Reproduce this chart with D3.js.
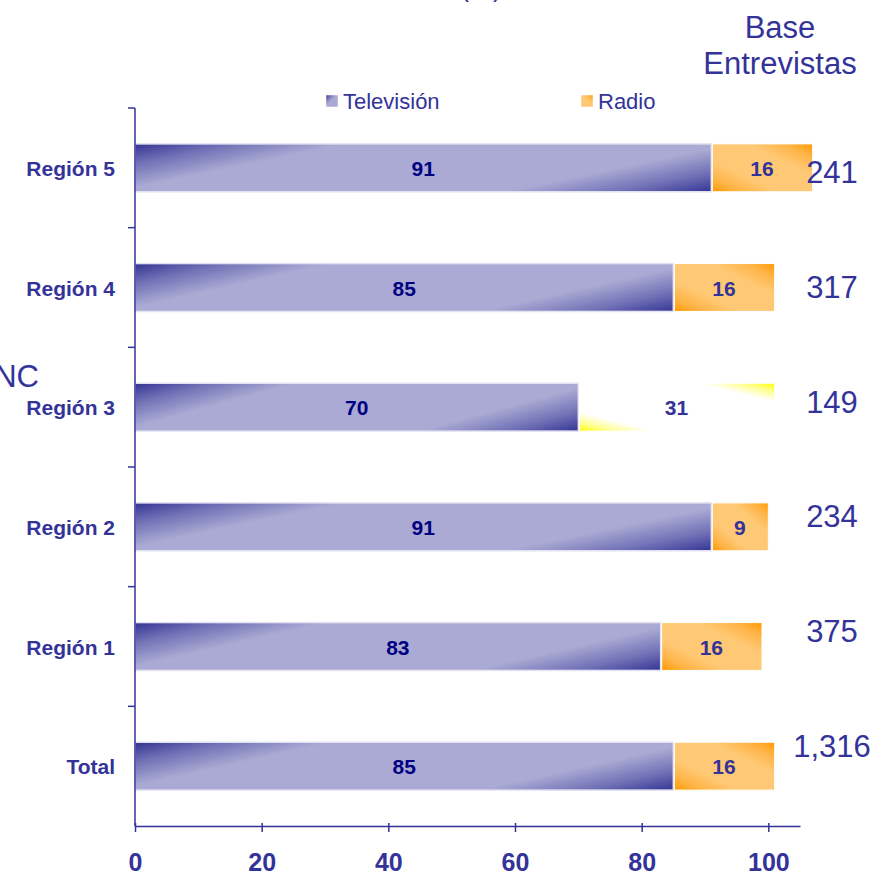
<!DOCTYPE html>
<html>
<head>
<meta charset="utf-8">
<script src="https://cdn.jsdelivr.net/npm/d3@7"></script>
<style>
  body { margin: 0; background: #fff; }
  text { font-family: Arial, "Liberation Sans", sans-serif; }
</style>
</head>
<body>
<div id="chart"></div>
<script>
const categories = ["Región 5", "Región 4", "Región 3", "Región 2", "Región 1", "Total"];
const television = [91, 85, 70, 91, 83, 85];
const radio = [16, 16, 31, 9, 16, 16];
const baseEntrevistas = ["241", "317", "149", "234", "375", "1,316"];
const xTicks = [0, 20, 40, 60, 80, 100];
const seriesNames = ["Televisión", "Radio"];

const W = 875, H = 871;
const navy = "#333399";

const svg = d3.select("#chart").append("svg")
  .attr("width", W).attr("height", H);

const defs = svg.append("defs");

// two-corner gradient: edge colour in two opposite corners, mid colour between
function cornerGradient(id, x1, y1, x2, y2, edge, soft, mid, a, b) {
  const g = defs.append("linearGradient").attr("id", id)
    .attr("x1", x1).attr("y1", y1).attr("x2", x2).attr("y2", y2);
  g.append("stop").attr("offset", 0).attr("stop-color", edge);
  g.append("stop").attr("offset", a * 0.45).attr("stop-color", soft);
  g.append("stop").attr("offset", a).attr("stop-color", mid);
  g.append("stop").attr("offset", b).attr("stop-color", mid);
  g.append("stop").attr("offset", 1 - (1 - b) * 0.45).attr("stop-color", soft);
  g.append("stop").attr("offset", 1).attr("stop-color", edge);
}
cornerGradient("tvGrad", 0, 0, 1.21, 0.48, "#333393", "#7070b6", "#aaaad4", 0.26, 0.74);
cornerGradient("radioGrad", 1, 0, 0, 1, "#ff9900", "#ffb446", "#ffc874", 0.32, 0.68);
cornerGradient("radioAlt", 1, 0, 0, 1, "#ffff00", "#ffff90", "#ffffff", 0.2, 0.8);
cornerGradient("tvKey", 0, 0, 1, 1, "#333393", "#6e6eb4", "#aaaad4", 0.45, 1);
cornerGradient("radioKey", 1, 0, 0, 1, "#ff9900", "#ffb446", "#ffc874", 0.45, 1);

const x = d3.scaleLinear().domain([0, 105]).range([135, 800]);
const y = d3.scaleBand().domain(categories).range([108, 826])
  .paddingInner(0.6).paddingOuter(0.3);
const yBase = d3.scalePoint().domain(categories).range([172, 746]);

const rows = categories.map((c, i) => ({
  cat: c, tv: television[i], radio: radio[i], base: baseEntrevistas[i]
}));

// cut-off title and left label
svg.append("text").attr("x", 481).attr("y", -4).attr("text-anchor", "middle")
  .attr("font-size", 27).attr("fill", navy).text("(%)");
svg.append("text").attr("x", 39).attr("y", 387).attr("text-anchor", "end")
  .attr("font-size", 31).attr("fill", navy).text("NS/NC");

// base header
svg.append("text").attr("x", 780).attr("y", 38).attr("text-anchor", "middle")
  .attr("font-size", 31).attr("fill", navy).text("Base");
svg.append("text").attr("x", 780).attr("y", 74).attr("text-anchor", "middle")
  .attr("font-size", 31).attr("fill", navy).text("Entrevistas");

// legend
const legend = svg.append("g");
[[326, "url(#tvKey)"], [581, "url(#radioKey)"]].forEach(([lx, fill], i) => {
  legend.append("rect").attr("x", lx).attr("y", 95).attr("width", 12).attr("height", 12)
    .attr("fill", fill).attr("stroke", "#ffffff").attr("stroke-width", 0.5);
  legend.append("text").attr("x", lx + 17).attr("y", 109)
    .attr("font-size", 22).attr("fill", navy).text(seriesNames[i]);
});

// bars
const bars = svg.append("g");
bars.selectAll("rect.tv").data(rows).join("rect").attr("class", "tv")
  .attr("x", x(0)).attr("y", d => y(d.cat))
  .attr("width", d => x(d.tv) - x(0)).attr("height", y.bandwidth())
  .attr("fill", "url(#tvGrad)")
  .attr("stroke", "#e2e2f2").attr("stroke-width", 1.5);

bars.selectAll("rect.radio").data(rows).join("rect").attr("class", "radio")
  .attr("x", d => x(d.tv) + 1).attr("y", d => y(d.cat))
  .attr("width", d => x(d.tv + d.radio) - x(d.tv) - 1).attr("height", y.bandwidth())
  .attr("fill", d => d.cat === "Región 3" ? "url(#radioAlt)" : "url(#radioGrad)")
  .attr("stroke", "#ffffff").attr("stroke-width", 1);

bars.selectAll("text.tvl").data(rows).join("text").attr("class", "tvl")
  .attr("x", d => (x(0) + x(d.tv)) / 2).attr("y", d => y(d.cat) + y.bandwidth() / 2 + 8)
  .attr("text-anchor", "middle").attr("font-size", 21).attr("font-weight", "bold")
  .attr("fill", "#000080").text(d => d.tv);

bars.selectAll("text.rl").data(rows).join("text").attr("class", "rl")
  .attr("x", d => (x(d.tv) + x(d.tv + d.radio)) / 2).attr("y", d => y(d.cat) + y.bandwidth() / 2 + 8)
  .attr("text-anchor", "middle").attr("font-size", 21).attr("font-weight", "bold")
  .attr("fill", navy).text(d => d.radio);

// base column
svg.selectAll("text.base").data(rows).join("text").attr("class", "base")
  .attr("x", 832).attr("y", d => yBase(d.cat) + 11)
  .attr("text-anchor", "middle").attr("font-size", 31).attr("fill", navy)
  .text(d => d.base);

// category labels
svg.selectAll("text.cat").data(rows).join("text").attr("class", "cat")
  .attr("x", 115).attr("y", d => y(d.cat) + y.bandwidth() / 2 + 8)
  .attr("text-anchor", "end").attr("font-size", 21).attr("font-weight", "bold")
  .attr("fill", navy).text(d => d.cat);

// y axis line + ticks at band boundaries
const yAxis = svg.append("g").attr("stroke", navy).attr("stroke-width", 1.5);
const y0 = y.range()[0], y1 = y.range()[1];
yAxis.append("line").attr("x1", x(0)).attr("x2", x(0)).attr("y1", y0).attr("y2", y1);
d3.range(categories.length).forEach(i => {
  const ty = y0 + i * y.step();
  yAxis.append("line").attr("x1", x(0) - 7).attr("x2", x(0)).attr("y1", ty).attr("y2", ty);
});

// x axis
const xAxis = svg.append("g").attr("transform", `translate(0,${y1})`)
  .call(d3.axisBottom(x).tickValues(xTicks).tickSize(6).tickPadding(21).tickSizeOuter(0));
xAxis.select(".domain").attr("stroke", navy).attr("stroke-width", 1.5);
xAxis.selectAll(".tick line").attr("stroke", navy).attr("stroke-width", 1.5).attr("y1", -3);
xAxis.selectAll(".tick text").attr("fill", navy).attr("font-size", 25)
  .attr("font-weight", "bold").attr("font-family", "Arial, 'Liberation Sans', sans-serif");
</script>
</body>
</html>
